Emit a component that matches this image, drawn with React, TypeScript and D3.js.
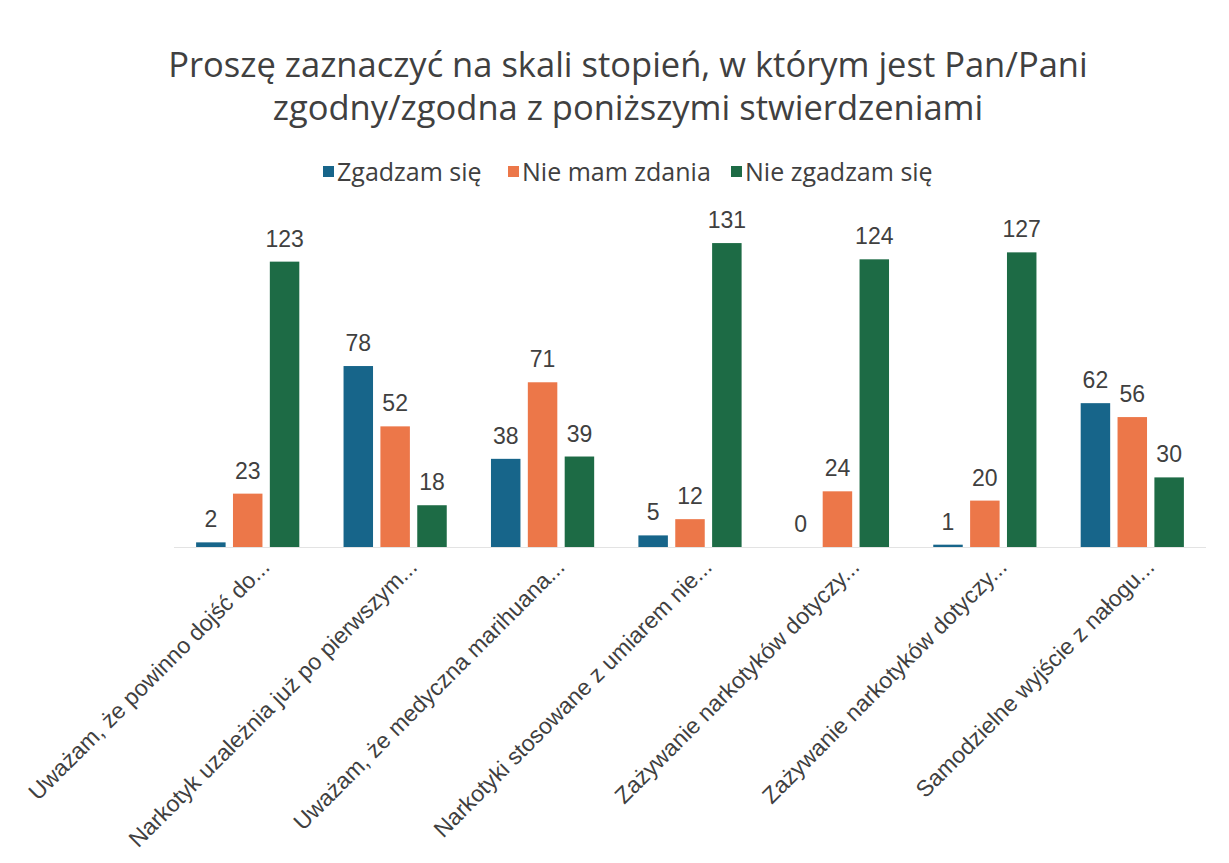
import * as d3 from 'd3'

const W = 1229
const H = 863

const TITLE_LINES = [
  'Proszę zaznaczyć na skali stopień, w którym jest Pan/Pani',
  'zgodny/zgodna z poniższymi stwierdzeniami',
]

const CATEGORIES = [
  'Uważam, że powinno dojść do...',
  'Narkotyk uzależnia już po pierwszym...',
  'Uważam, że medyczna marihuana...',
  'Narkotyki stosowane z umiarem nie...',
  'Zażywanie narkotyków dotyczy...',
  'Zażywanie narkotyków dotyczy...',
  'Samodzielne wyjście z nałogu...',
]

const SERIES = ['Zgadzam się', 'Nie mam zdania', 'Nie zgadzam się']
const COLORS = ['#17658a', '#ec7749', '#1d6b45']

const ZGADZAM = [2, 78, 38, 5, 0, 1, 62]
const BRAK_ZDANIA = [23, 52, 71, 12, 24, 20, 56]
const NIE_ZGADZAM = [123, 18, 39, 131, 124, 127, 30]

const VALUES = [ZGADZAM, BRAK_ZDANIA, NIE_ZGADZAM]

const PLOT = { left: 174, right: 1206, base: 547 }
const TEXT = '#404040'
const LABEL_FONT = "'Liberation Sans', Arial, sans-serif"
const HEAD_FONT = "'Open Sans', sans-serif"

export default function App() {
  // keys must be unique, so index categories
  const keys = CATEGORIES.map((_, i) => String(i))
  const x0 = d3.scaleBand<string>().domain(keys)
    .range([PLOT.left, PLOT.right]).paddingInner(0.3).paddingOuter(0.15)
  const x1 = d3.scaleBand<string>().domain(SERIES)
    .range([0, x0.bandwidth()]).paddingInner(0.2).paddingOuter(0)
  const y = d3.scaleLinear().domain([0, 140]).range([PLOT.base, PLOT.base - 140 * 2.32])

  const legendX = [323, 508, 731]

  return (
    <svg width={W} height={H} style={{ display: 'block', position: 'absolute', left: 0, top: 0, background: '#fff' }}>
      {TITLE_LINES.map((t, i) => (
        <text key={t} x={628} y={77 + i * 43} textAnchor="middle"
          fontFamily={HEAD_FONT} fontSize={34.5} fill={TEXT}>{t}</text>
      ))}

      {/* legend */}
      {SERIES.map((s, i) => (
        <g key={s} transform={`translate(${legendX[i]},172)`}>
          <rect x={0} y={-6} width={11} height={11} fill={COLORS[i]} />
          <text x={14} y={0} dy="0.35em" fontFamily={HEAD_FONT} fontSize={25} fill={TEXT}>{s}</text>
        </g>
      ))}

      {/* baseline */}
      <line x1={PLOT.left} x2={PLOT.right} y1={PLOT.base + 0.5} y2={PLOT.base + 0.5} stroke="#e3e3e3" />

      {keys.map((k, ci) => (
        <g key={k} transform={`translate(${x0(k)},0)`}>
          {SERIES.map((s, si) => {
            const v = VALUES[si][ci]
            const bx = x1(s) as number
            return (
              <g key={s}>
                <rect x={bx} y={y(v)} width={x1.bandwidth()} height={PLOT.base - y(v)} fill={COLORS[si]} />
                <text x={bx + x1.bandwidth() / 2} y={y(v) - 15} textAnchor="middle"
                  fontFamily={LABEL_FONT} fontSize={23} fill={TEXT}>{v}</text>
              </g>
            )
          })}
        </g>
      ))}

      {/* category labels */}
      {keys.map((k, ci) => {
        const cx = (x0(k) as number) + x0.bandwidth() / 2
        return (
          <text key={k} transform={`translate(${cx + 12},${PLOT.base + 10}) rotate(-45)`}
            textAnchor="end" dy="0.7em"
            fontFamily={LABEL_FONT} fontSize={23} fill={TEXT}>
            {CATEGORIES[ci]}
          </text>
        )
      })}
    </svg>
  )
}
